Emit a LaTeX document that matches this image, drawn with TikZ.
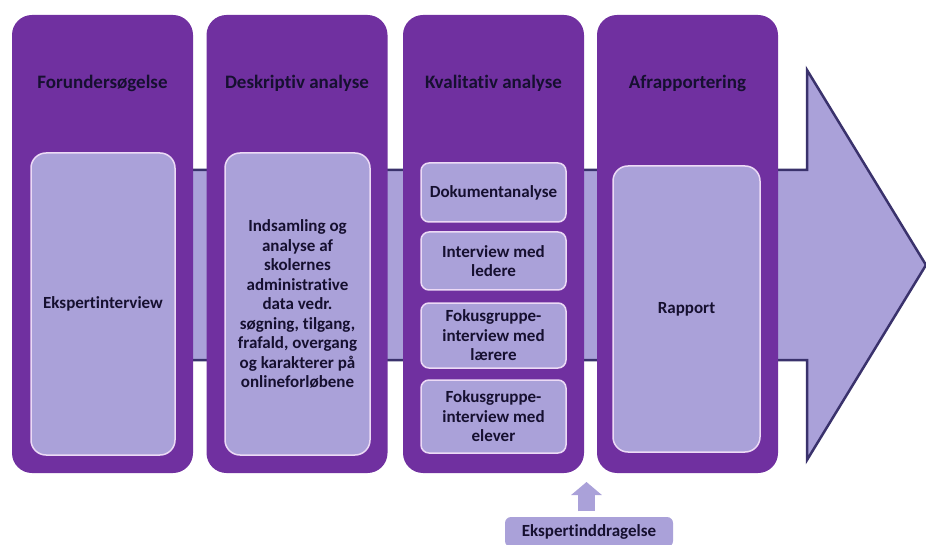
\documentclass[tikz,border=0pt]{standalone}
\usepackage{fontspec}
\setmainfont{Carlito}[Ligatures=NoCommon]
\usetikzlibrary{arrows.meta}

\definecolor{stagepurple}{RGB}{112,48,160}
\definecolor{lilac}{RGB}{170,161,217}
\definecolor{navyline}{RGB}{58,50,108}
\definecolor{inktext}{RGB}{22,16,48}
\definecolor{paleedge}{RGB}{236,218,246}

\begin{document}
\begin{tikzpicture}[x=1pt,y=1pt,yscale=-1,
	stage/.style={fill=stagepurple,rounded corners=20pt,minimum width=181pt,minimum height=458pt,inner sep=0pt},
	head/.style={text=inktext,font=\bfseries\fontsize{19}{21}\selectfont,inner sep=0.75pt},
	task/.style={fill=lilac,draw=paleedge,line width=1.5pt,rounded corners=#1,text=inktext,align=center,inner sep=0pt,
		font=\bfseries\fontsize{17}{19.5}\selectfont},
	task/.default=15pt]
	\path[use as bounding box] (0,0) rectangle (926,545);

	%Shape: Big Arrow
	\draw[fill=lilac,draw=navyline,line width=2.5pt,line join=miter] (100,170) -- (807,170) -- (807,70) -- (926,265) -- (807,460) -- (807,360) -- (100,360) -- cycle;

	%Shape: Stage Columns
	\node[stage] (c1) at (102.5,244) {};
	\node[stage] (c2) at (297,244) {};
	\node[stage] (c3) at (493.5,244) {};
	\node[stage] (c4) at (687.5,244) {};

	% Text Node
	\node[head] (h1) at (102.5,83) {Forundersøgelse};
	% Text Node
	\node[head] (h2) at (297,83) {Deskriptiv analyse};
	% Text Node
	\node[head] (h3) at (493.5,83) {Kvalitativ analyse};
	% Text Node
	\node[head] (h4) at (687.5,83) {Afrapportering};

	%Shape: Task Boxes
	\node[task,minimum width=144pt,minimum height=302pt] (t1) at (103,304) {Ekspertinterview};
	\node[task,minimum width=145pt,minimum height=302pt] (t2) at (297.5,304) {Indsamling og\\analyse af\\skolernes\\administrative\\data vedr.\\søgning, tilgang,\\frafald, overgang\\og karakterer på\\onlineforløbene};
	\node[task=8pt,minimum width=145pt,minimum height=59pt] (t3a) at (493.5,192.5) {Dokumentanalyse};
	\node[task=8pt,minimum width=145pt,minimum height=58pt] (t3b) at (493.5,261) {Interview med\\ledere};
	\node[task=8pt,minimum width=145pt,minimum height=65pt] (t3c) at (493.5,335.5) {Fokusgruppe-\\interview med\\lærere};
	\node[task=8pt,minimum width=145pt,minimum height=73pt] (t3d) at (493.5,416.5) {Fokusgruppe-\\interview med\\elever};
	\node[task,minimum width=147pt,minimum height=286pt] (t4) at (686.5,309) {Rapport};

	%Shape: Expert Box
	\node[task=6pt,draw=none,minimum width=168pt,minimum height=30pt] (ek) at (589,532) {Ekspertinddragelse};
	\coordinate (ektip) at (586.5,482);

	%Straight Lines
	\draw[draw=lilac,line width=17pt,-{Triangle[width=30pt,length=13pt]}] ([yshift=-5pt]ek.north -| ektip) -- (ektip);

\end{tikzpicture}
\end{document}
